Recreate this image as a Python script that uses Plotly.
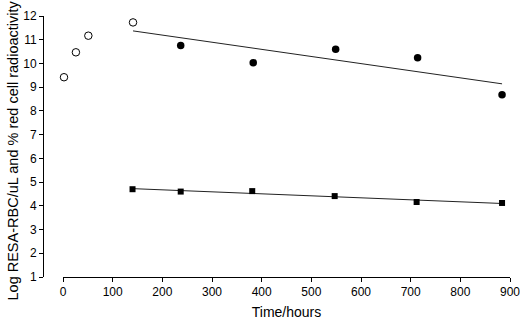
import numpy as np
import plotly.graph_objects as go

# Open circles (early samples)
open_x = [2, 26, 51, 141]
open_y = [9.42, 10.47, 11.17, 11.73]

# Filled circles (% red cell radioactivity)
fill_x = [237, 383, 549, 714, 884]
fill_y = [10.76, 10.03, 10.60, 10.24, 8.68]

# Squares (Log RESA-RBC/uL)
sq_x = [140, 237, 381, 547, 712, 884]
sq_y = [4.70, 4.60, 4.62, 4.41, 4.16, 4.12]

x_ticks = [0, 100, 200, 300, 400, 500, 600, 700, 800, 900]
y_ticks = [1, 2, 3, 4, 5, 6, 7, 8, 9, 10, 11, 12]

y_title = "Log RESA-RBC/uL and % red cell radioactivity"
x_title = "Time/hours"

# regression lines
reg1_x = [open_x[-1]] + fill_x
reg1_y = [open_y[-1]] + fill_y
m1, b1 = np.polyfit(reg1_x, reg1_y, 1)
l1x = [reg1_x[0], reg1_x[-1]]
l1y = [m1 * v + b1 for v in l1x]

m2, b2 = np.polyfit(sq_x, sq_y, 1)
l2x = [sq_x[0], sq_x[-1]]
l2y = [m2 * v + b2 for v in l2x]

FONT = "Liberation Sans, Arial, sans-serif"

fig = go.Figure()
fig.add_trace(go.Scatter(x=l1x, y=l1y, mode="lines",
                         line=dict(color="#222", width=1), hoverinfo="skip"))
fig.add_trace(go.Scatter(x=l2x, y=l2y, mode="lines",
                         line=dict(color="#222", width=1), hoverinfo="skip"))
fig.add_trace(go.Scatter(x=open_x, y=open_y, mode="markers", cliponaxis=False,
                         marker=dict(symbol="circle", size=7.5, color="white",
                                     line=dict(color="black", width=1))))
fig.add_trace(go.Scatter(x=fill_x, y=fill_y, mode="markers", cliponaxis=False,
                         marker=dict(symbol="circle", size=7.5, color="black")))
fig.add_trace(go.Scatter(x=sq_x, y=sq_y, mode="markers", cliponaxis=False,
                         marker=dict(symbol="square", size=6, color="black")))

fig.update_layout(
    width=520, height=320,
    margin=dict(l=43, r=10, t=16, b=43),
    paper_bgcolor="white", plot_bgcolor="white",
    showlegend=False,
    font=dict(family=FONT, size=12, color="black"),
    xaxis=dict(range=[0, 900], domain=[20 / 467, 1], automargin=False,
               tickvals=x_ticks, ticks="outside", ticklen=4, tickcolor="black",
               ticklabeloverflow="allow",
               showline=True, linecolor="black", linewidth=1,
               showgrid=False, zeroline=False,
               title=dict(text=x_title, font=dict(size=14), standoff=10)),
    yaxis=dict(range=[1, 12], anchor="free", position=0, automargin=False,
               tickvals=y_ticks, ticks="outside", ticklen=4, tickcolor="black",
               ticklabeloverflow="allow",
               showline=True, linecolor="black", linewidth=1,
               showgrid=False, zeroline=False),
    annotations=[dict(text=y_title, textangle=-90, showarrow=False,
                      xref="paper", yref="paper",
                      x=(12 - 43) / 467, y=(277 - 150.5) / 261,
                      xanchor="center", yanchor="middle",
                      font=dict(size=14.5))],
)

fig.write_html("out.html", config={"displayModeBar": False},
               post_script="document.body.style.margin='0';")
